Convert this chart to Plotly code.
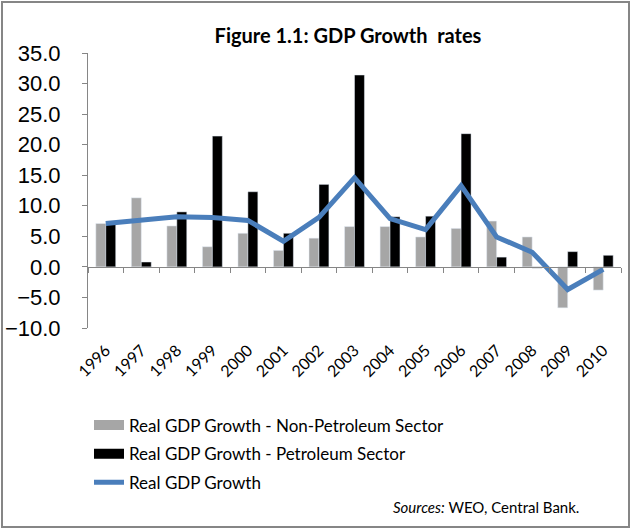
import plotly.graph_objects as go

# Data
years = [str(y) for y in range(1996, 2011)]
non_petroleum = [7.1, 11.3, 6.7, 3.3, 5.5, 2.7, 4.7, 6.6, 6.6, 4.9, 6.3, 7.5, 4.9, -6.7, -3.8]
petroleum = [7.0, 0.8, 9.0, 21.4, 12.3, 5.5, 13.5, 31.4, 8.2, 8.3, 21.8, 1.6, -0.2, 2.5, 1.9]
real_gdp = [7.1, 7.7, 8.2, 8.1, 7.6, 4.2, 8.1, 14.6, 7.9, 6.1, 13.3, 4.9, 2.4, -3.7, -0.4]

GREY = '#A6A6A6'
BLUE = '#4A7EBB'
AXIS = '#868686'

W, H = 631, 529
ML, MR, MT, MB = 88, 10, 53, 201
PW, PH = W - ML - MR, H - MT - MB
Y_MIN, Y_MAX = -10, 35


def px_x(x):
    return (x - ML) / PW


def px_y(y):
    return (H - MB - y) / PH


fig = go.Figure()

fig.add_trace(go.Bar(x=years, y=non_petroleum, marker_color=GREY, showlegend=False))
fig.add_trace(go.Bar(x=years, y=petroleum, marker_color='black', showlegend=False))

# legend entries with wide swatches like the original
fig.add_trace(go.Scatter(x=[None], y=[None], mode='lines', legendgroup='a',
                         name='Real GDP Growth - Non-Petroleum Sector',
                         line=dict(color=GREY, width=10)))
fig.add_trace(go.Scatter(x=[None], y=[None], mode='lines', legendgroup='b',
                         name='Real GDP Growth - Petroleum Sector',
                         line=dict(color='black', width=10)))
fig.add_trace(go.Scatter(x=years, y=real_gdp, mode='lines', legendgroup='c',
                         name='Real GDP Growth', xaxis='x2',
                         line=dict(color=BLUE, width=5)))

fig.update_layout(
    width=W, height=H,
    margin=dict(l=ML, r=MR, t=MT, b=MB, autoexpand=False),
    paper_bgcolor='white', plot_bgcolor='white',
    barmode='group', bargap=0.44, bargroupgap=0,
    title=dict(text='<b>Figure 1.1: GDP Growth\u00a0 rates</b>',
               x=348 / W, xanchor='center', y=1 - 36 / H, yanchor='middle',
               font=dict(family='Lato', size=20, color='black')),
    xaxis=dict(type='category', categoryarray=years, range=[-0.5, 14.5],
               showline=False, ticks='', tickangle=-45, showgrid=False,
               ticklabelstandoff=9, automargin=False,
               tickfont=dict(family='Lato', size=16, color='black')),
    xaxis2=dict(type='category', categoryarray=years, range=[-0.5, 14.5],
                overlaying='x', anchor='free',
                position=(0 - Y_MIN) / (Y_MAX - Y_MIN),
                showline=True, linecolor=AXIS, linewidth=1,
                ticks='outside', tickson='boundaries', ticklen=5, tickcolor=AXIS,
                showticklabels=False, showgrid=False, automargin=False),
    yaxis=dict(range=[Y_MIN, Y_MAX], dtick=5, tickformat='.1f',
               showline=True, linecolor=AXIS, linewidth=1,
               ticks='outside', ticklen=5, tickcolor=AXIS,
               showgrid=False, zeroline=False, ticklabelstandoff=17,
               automargin=False,
               tickfont=dict(family='Liberation Sans', size=22, color='black')),
    legend=dict(x=px_x(89), xanchor='left', y=px_y(407.5), yanchor='top',
                tracegroupgap=3.5, bgcolor='rgba(0,0,0,0)',
                font=dict(family='Lato', size=17, color='black')),
    annotations=[dict(text='<i>Sources:</i> WEO, Central Bank.',
                      xref='paper', yref='paper', x=px_x(581), y=px_y(507),
                      xanchor='right', yanchor='middle', showarrow=False,
                      font=dict(family='Lato', size=15, color='black'))],
    shapes=[dict(type='rect', xref='paper', yref='paper',
                 x0=px_x(2), x1=px_x(629), y0=px_y(527), y1=px_y(2),
                 line=dict(color=AXIS, width=2), layer='below')],
)

fig.write_html("out.html", config={'displayModeBar': False},
               post_script="document.body.style.margin = '0';")
